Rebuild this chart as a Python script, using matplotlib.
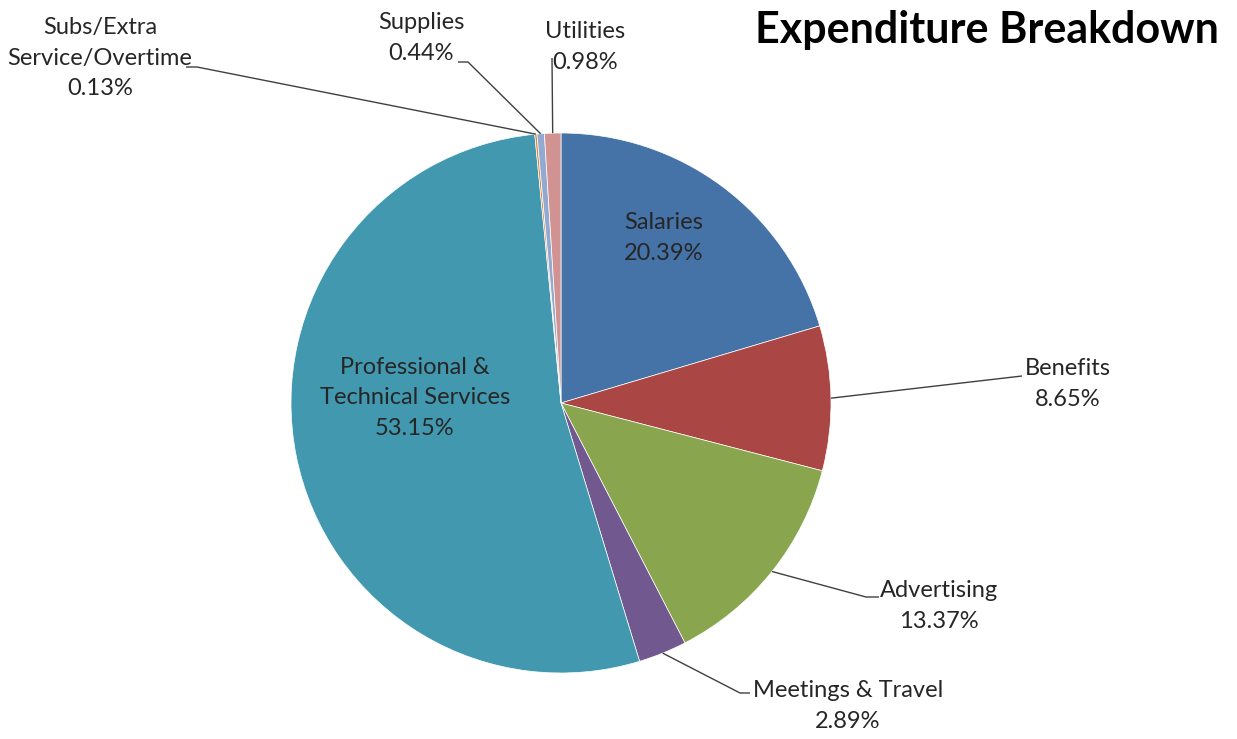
import matplotlib
matplotlib.use("Agg")
import matplotlib.pyplot as plt
import numpy as np

categories = ["Salaries", "Benefits", "Advertising", "Meetings & Travel",
              "Professional &\nTechnical Services", "Subs/Extra\nService/Overtime",
              "Supplies", "Utilities"]
values = [20.39, 8.65, 13.37, 2.89, 53.15, 0.13, 0.44, 0.98]
colors = ["#4572A7", "#AA4643", "#89A54E", "#71588F", "#4198AF", "#DB843D",
          "#93A9CF", "#D19392"]

plt.rcParams['font.family'] = ['Lato', 'DejaVu Sans']
W, H = 1237, 739
fig = plt.figure(figsize=(W / 100, H / 100), dpi=100)
ax = fig.add_axes([0, 0, 1, 1])

cx, cy, R = 561, H - 403, 270
wedges, _ = ax.pie(values, colors=colors, startangle=90, counterclock=False,
                   center=(cx, cy), radius=R,
                   wedgeprops=dict(linewidth=0.5, edgecolor='white'))
ax.set_xlim(0, W)
ax.set_ylim(0, H)
ax.set_aspect('equal')
ax.axis('off')

txt_color = '#262626'
fs = 17
ls = 1.55

def lab(i):
    return f"{categories[i]}\n{values[i]:.2f}%"

# inside labels
ax.text(664, H - 238, lab(0), ha='center', va='center', fontsize=fs, color=txt_color, linespacing=ls)
ax.text(415, H - 398, lab(4), ha='center', va='center', fontsize=fs, color=txt_color, linespacing=ls)

def edge(i):
    cum = np.cumsum([0] + values)
    mid = (cum[i] + cum[i + 1]) / 2.0 / 100.0 * 360.0
    ang = np.deg2rad(90 - mid)
    return cx + R * np.cos(ang), cy + R * np.sin(ang)

# outside labels: (index, text pos, path anchor points in pixel coords)
outside = [
    (1, (1068, 384), [(1022, 376)]),
    (2, (939, 606), [(866, 597), (879, 597)]),
    (3, (848, 706), [(740, 693), (750, 693)]),
    (5, (100, 58), [(197, 67), (186, 67)]),
    (6, (421, 38), [(468, 62), (458, 62)]),
    (7, (585, 47), [(552, 58)]),
]
for i, (tx, ty), pts in outside:
    ex, ey = edge(i)
    xs = [ex] + [p[0] for p in pts]
    ys = [ey] + [H - p[1] for p in pts]
    ax.plot(xs, ys, color='#404040', lw=1.0, solid_capstyle='butt')
    ax.text(tx, H - ty, lab(i), ha='center', va='center', fontsize=fs,
            color=txt_color, linespacing=ls)

ax.text(1219, H - 30, "Expenditure Breakdown", ha='right', va='center',
        fontsize=31, fontweight='bold', color='black')

fig.savefig("out.png", dpi=100, facecolor='white')
